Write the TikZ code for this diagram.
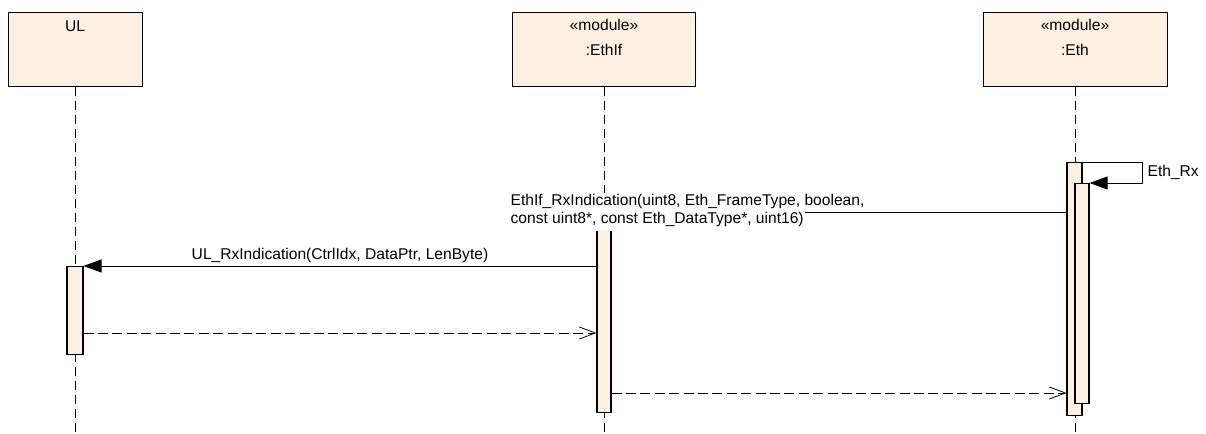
\documentclass[tikz,border=0pt]{standalone}
\usepackage{fontspec}
\setmainfont{Liberation Sans}
\usetikzlibrary{arrows.meta}
\definecolor{lifefill}{RGB}{251,240,226}
\begin{document}
\begin{tikzpicture}[x=0.75pt,y=-0.75pt,
  font=\fontsize{11.7}{14}\selectfont,
  lifebox/.style={draw=black, line width=0.8pt, fill=lifefill, anchor=north west,
    minimum height=55.5pt, inner sep=0pt},
  boxtext/.style={inner sep=0pt},
  actbar/.style={draw=black, line width=0.8pt, fill=lifefill, inner sep=0pt, anchor=north},
  lifeline/.style={line width=0.6pt, dash pattern=on 6.5pt off 4pt},
  msg/.style={line width=0.6pt, -{Triangle[length=13.5pt,width=9.75pt]}},
  ret/.style={line width=0.6pt, dash pattern=on 7.5pt off 3.3pt,
    -{Straight Barb[length=12pt,width=9pt]}},
  msglabel/.style={inner sep=1pt}]
\useasboundingbox (0,0) rectangle (1206,434);

% lifeline heads
\node[lifebox, minimum width=100.5pt] (ul) at (8,12) {};
\node[lifebox, minimum width=137.25pt] (ethif) at (512,12) {};
\node[lifebox, minimum width=138pt] (eth) at (983,12) {};
\node[boxtext] (ultxt) at (75,26) {UL};
\node[boxtext] (ethifst) at (604,25) {«module»};
\node[boxtext] (ethifname) at (604,50) {:EthIf};
\node[boxtext] (ethst) at (1075,25) {«module»};
\node[boxtext] (ethname) at (1075,50) {:Eth};

% lifelines
\coordinate (bottom) at (0,434);
\draw[lifeline] (ul.south) -- (ul.south |- bottom);
\draw[lifeline] (ethif.south) -- (ethif.south |- bottom);
\draw[lifeline] (eth.south) -- (eth.south |- bottom);

% activation bars
\node[actbar, minimum width=12pt, minimum height=66pt] (ulbar) at (75,266) {};
\node[actbar, minimum width=10.5pt, minimum height=150pt] (ethifbar) at (604,212) {};
\node[actbar, minimum width=11.25pt, minimum height=189.75pt] (ethbar1) at (1074.5,162) {};
\node[actbar, minimum width=10.5pt, minimum height=165pt] (ethbar2) at (1082,183) {};

% self call on Eth
\coordinate (selfturn) at (1142,162);
\draw[msg] (ethbar1.north east) -- (selfturn) |- (ethbar2.north east);
\node[msglabel, anchor=west] (selflbl) at (1146,172) {Eth\_Rx};

% EthIf_RxIndication
\draw[msg] (ethbar1.west |- ethifbar.north east) -- (ethifbar.north east);
\node[msglabel, anchor=base west, fill=white, inner ysep=1pt] (rx1a) at (509,206)
  {EthIf\_RxIndication(uint8, Eth\_FrameType, boolean,};
\node[msglabel, anchor=base west, fill=white, inner ysep=2.6pt] (rx1b) at (509,224)
  {const uint8*, const Eth\_DataType*, uint16)};

% UL_RxIndication
\draw[msg] (ethifbar.west |- ulbar.north) -- node[msglabel, above=1pt] (rx2lbl)
  {UL\_RxIndication(CtrlIdx, DataPtr, LenByte)} (ulbar.north east);

% returns
\coordinate (r1) at (0,333);
\coordinate (r2) at (0,393);
\draw[ret] (ulbar.east |- r1) -- (ethifbar.west |- r1);
\draw[ret] (ethifbar.east |- r2) -- (ethbar1.west |- r2);
\end{tikzpicture}
\end{document}
